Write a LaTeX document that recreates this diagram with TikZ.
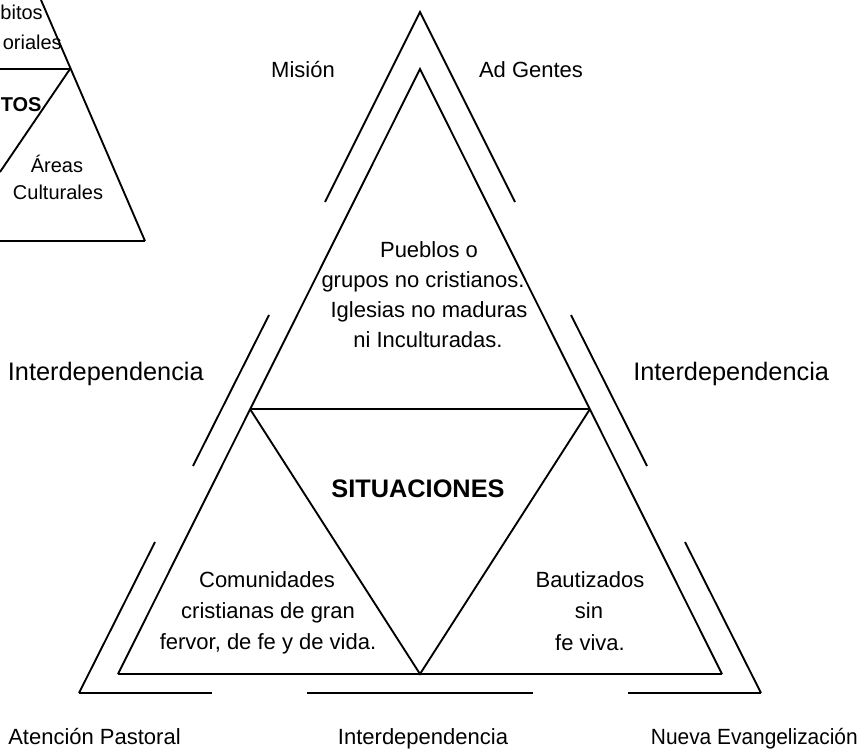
\documentclass[tikz,border=0pt]{standalone}
\usepackage{fontspec}
\setmainfont{Liberation Sans}
\newfontfamily\narrowsans{Liberation Sans}[FakeStretch=0.95]
\begin{document}
\begin{tikzpicture}[x=0.75pt,y=-0.75pt,
  edge/.style={line width=1.4pt},
  heavy/.style={line width=2.2pt},
  baseline heavy/.style={line width=1.7pt},
  lbl/.style={font=\fontsize{16.5}{22.5}\selectfont, inner sep=0pt, anchor=base},
  big/.style={font=\fontsize{19}{24}\selectfont, inner sep=0pt, anchor=base},
  small/.style={font=\fontsize{15}{18}\selectfont, inner sep=0pt, anchor=base},
]
\useasboundingbox (0,0) rectangle (864,752);

% ---------- corner of the neighbouring triangle (top left) ----------
\coordinate (kTop) at (41,0);
\coordinate (kV) at (70,69);
\coordinate (kH) at (0,69);
\coordinate (kLow) at (0,172);
\coordinate (kBR) at (145,241);
\coordinate (kBL) at (0,241);
\draw[edge] (kTop) -- (kBR);
\draw[heavy] (kH) -- (kV);
\draw[heavy] (kBL) -- (kBR);
\draw[edge] (kV) -- (kLow);
\node[small, anchor=base east] (kA) at (43,20) {bitos};
\node[small, anchor=base east] (kB) at (62,50) {oriales};
\node[small, anchor=base west, font=\fontsize{15}{18}\selectfont\bfseries] (kC) at (0.5,112) {TOS};
\node[small] (kD) at (57,173) {Áreas};
\node[small] (kE) at (58,200) {Culturales};

% ---------- inner triangle ----------
\coordinate (apexI) at (420,69);
\coordinate (baseL) at (118,674);
\coordinate (baseR) at (722,674);
\coordinate (midL) at (250,409);
\coordinate (midR) at (590,409);
\coordinate (low) at (420,674);
\draw[edge, line join=miter] (baseL) -- (apexI) -- (baseR);
\draw[baseline heavy] (baseL) -- (baseR);
\draw[heavy] (midL) -- (midR);
\draw[edge] (midL) -- (low) -- (midR);

% ---------- outer broken frame ----------
\coordinate (apexO) at (420,12);
\coordinate (oL1) at (325,202);
\coordinate (oR1) at (515,202);
\coordinate (oL2a) at (269,315);
\coordinate (oL2b) at (193,466);
\coordinate (oR2a) at (571,315);
\coordinate (oR2b) at (647,466);
\coordinate (oL3a) at (155,542);
\coordinate (oCL) at (79,693);
\coordinate (oR3a) at (685,542);
\coordinate (oCR) at (761,693);
\coordinate (oB1) at (212,693);
\coordinate (oB2a) at (307,693);
\coordinate (oB2b) at (533,693);
\coordinate (oB3) at (628,693);
\draw[edge, line join=miter] (oL1) -- (apexO) -- (oR1);
\draw[edge] (oL2a) -- (oL2b);
\draw[edge] (oR2a) -- (oR2b);
\draw[edge] (oL3a) -- (oCL);
\draw[edge] (oR3a) -- (oCR);
\draw[heavy] (oCL) -- (oB1);
\draw[heavy] (oB2a) -- (oB2b);
\draw[heavy] (oB3) -- (oCR);

% ---------- labels ----------
\node[lbl] (mision) at (303,78) {Misión};
\node[lbl] (adgentes) at (531,78) {Ad Gentes};
\node[big, anchor=base east] (interL) at (204,380) {Interdependencia};
\node[big, anchor=base west] (interR) at (633,380) {Interdependencia};
\node[lbl] (interB) at (423,744) {Interdependencia};
\node[lbl, anchor=base west] (pastoral) at (8,744) {Atención Pastoral};
\node[lbl, anchor=base east, font=\fontsize{16.5}{22.5}\narrowsans] (nueva) at (858,744) {Nueva Evangelización};

\node[lbl] (p1) at (429,258) {Pueblos o};
\node[lbl] (p2) at (423,288) {grupos no cristianos.};
\node[lbl] (p3) at (429,318) {Iglesias no maduras};
\node[lbl] (p4) at (428,348) {ni Inculturadas.};

\node[big, font=\fontsize{19}{24}\selectfont\bfseries] (sit) at (418,497) {SITUACIONES};

\node[lbl] (c1) at (267,587) {Comunidades};
\node[lbl] (c2) at (268,618) {cristianas de gran};
\node[lbl] (c3) at (268,649) {fervor, de fe y de vida.};

\node[lbl] (b1) at (590,587) {Bautizados};
\node[lbl] (b2) at (589,618) {sin};
\node[lbl] (b3) at (590,650) {fe viva.};
\end{tikzpicture}
\end{document}
